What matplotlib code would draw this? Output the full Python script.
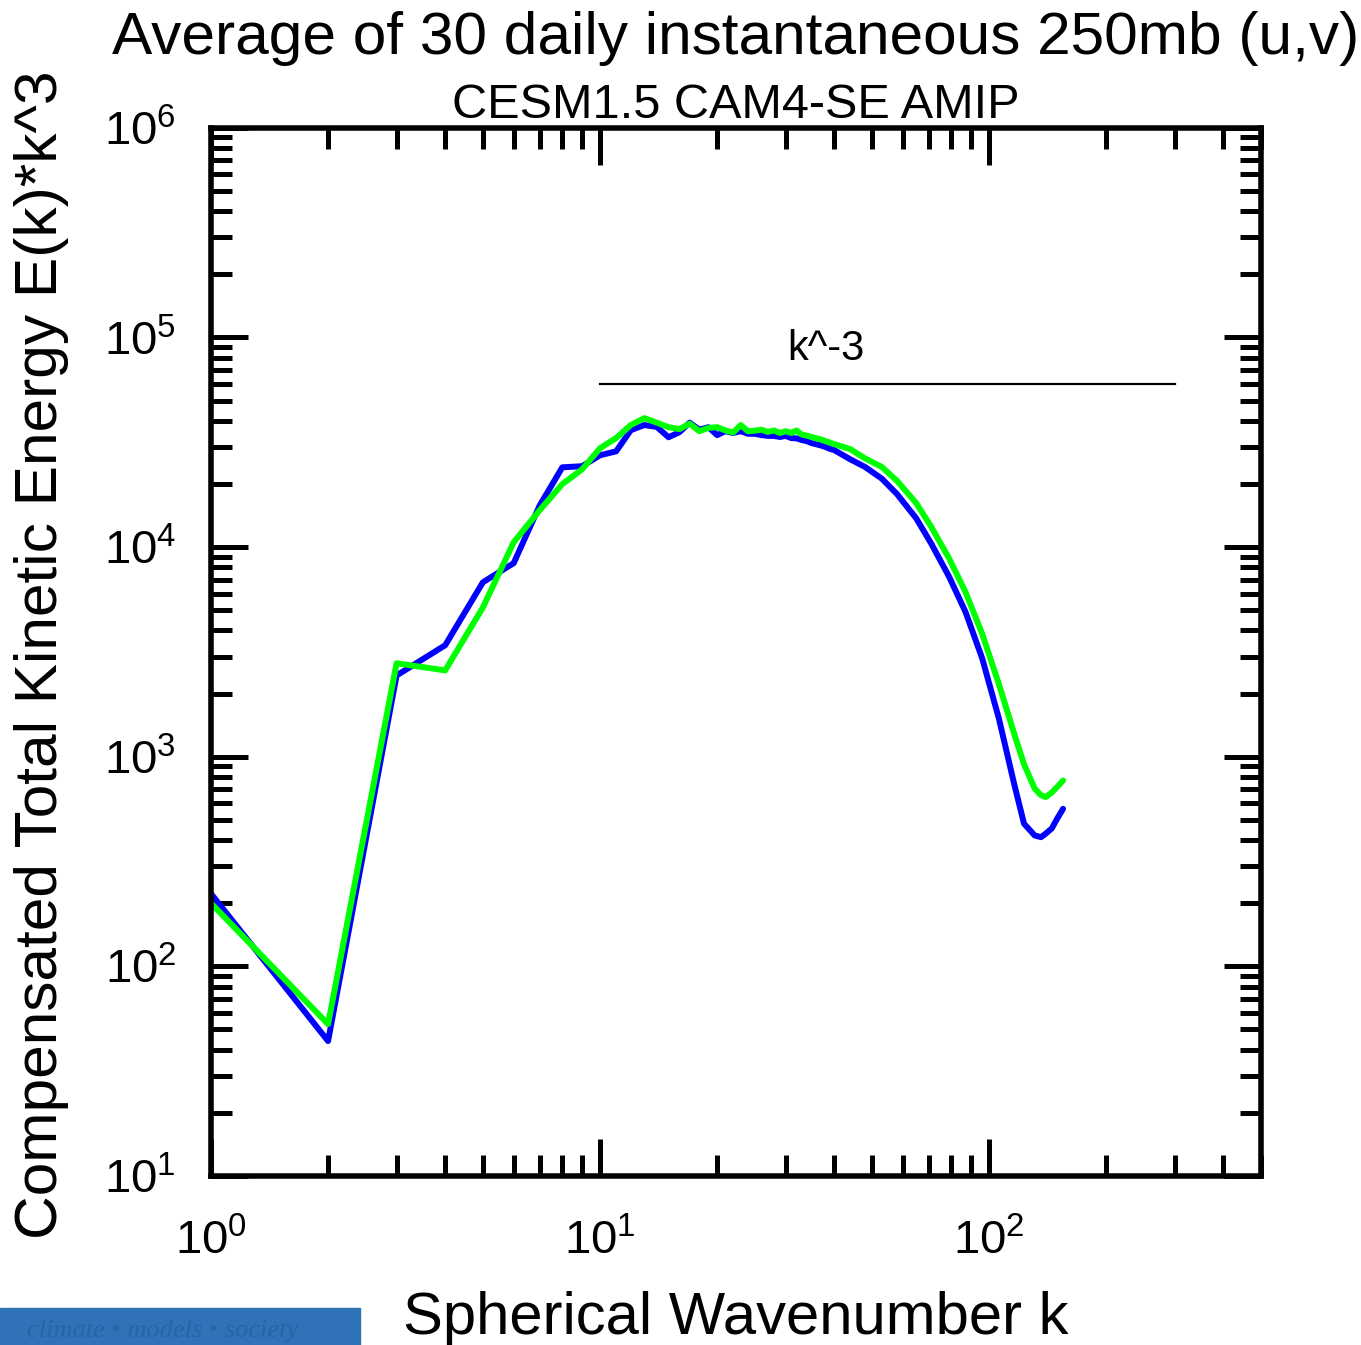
import numpy as np
import matplotlib
matplotlib.use("Agg")
import matplotlib.pyplot as plt
from matplotlib.patches import Rectangle
from matplotlib.ticker import LogLocator, NullFormatter

plt.rcParams.update({"font.family": ["Liberation Sans", "DejaVu Sans"], "mathtext.fontset": "custom",
                     "mathtext.rm": "Liberation Sans", "mathtext.it": "Liberation Sans"})

# wavenumbers and compensated KE spectra
k = [1, 2, 3, 4, 5, 6, 7, 8, 9, 10, 11, 12, 13, 14, 15, 16, 17, 18, 19, 20,
     21, 22, 23, 24, 25, 26, 27, 28, 29, 30, 31, 32, 33, 34, 35, 36, 37, 38, 39, 40,
     44, 48, 53, 58, 65, 71, 79, 87, 96, 106, 116, 123, 131, 136, 140, 145, 150, 155]
blue = [222, 44, 2440, 3400, 6790, 8380, 15800, 24000, 24300, 27400, 28600, 36100, 38200,
        37400, 33400, 35300, 39200, 36300, 37300, 34200,
        35700, 35000, 35700, 34700, 34700, 34200, 33900, 33900, 33500, 33900, 33100, 33000,
        32400, 32000, 31300, 30900, 30500, 30000, 29400, 29000,
        26200, 24100, 21200, 17900, 13700, 10400, 7200, 4900, 2950, 1520, 743, 479,
        421, 413, 430, 455, 510, 564]
green = [200, 53, 2790, 2580, 5150, 10540, 15000, 19950, 23500, 29600, 33100, 38200, 41200,
         39200, 37300, 36500, 38800, 35700, 37000, 37300,
         36000, 35200, 38200, 35700, 35900, 36300, 35400, 36000, 35000, 35700, 35000, 36000,
         34400, 34000, 33500, 33000, 32600, 32000, 31500, 31000,
         29300, 26500, 24100, 20700, 16200, 12500, 8800, 6100, 3860, 2220, 1290, 920,
         705, 655, 642, 675, 720, 770]

ref_k = [10, 300]
ref_val = [6e4, 6e4]

fig = plt.figure(figsize=(13.61, 13.45), dpi=100)
ax = fig.add_axes([0.155, 0.1257, 0.7715, 0.7793])

ax.plot(k, blue, color="#0000ff", lw=4.3, solid_joinstyle="round", solid_capstyle="round")
ax.plot(k, green, color="#00ff00", lw=4.3, solid_joinstyle="round", solid_capstyle="round")
ax.plot(ref_k, ref_val, color="black", lw=1.6)
ax.text(38, 8.8e4, "k^-3", fontsize=30, ha="center", va="center")

ax.set_xscale("log"); ax.set_yscale("log")
ax.set_xlim(1, 500); ax.set_ylim(10, 1e6)
for s in ax.spines.values():
    s.set_linewidth(4)
ax.xaxis.set_minor_locator(LogLocator(base=10, subs=np.arange(2, 10)))
ax.yaxis.set_minor_locator(LogLocator(base=10, subs=np.arange(2, 10)))
ax.xaxis.set_minor_formatter(NullFormatter()); ax.yaxis.set_minor_formatter(NullFormatter())
ax.tick_params(which="major", direction="in", length=26.5, width=3.6, top=True, right=True,
               labelsize=34)
ax.tick_params(which="minor", direction="in", length=15, width=3.6, top=True, right=True)
ax.tick_params(axis="x", which="major", pad=31)
ax.tick_params(axis="y", which="major", pad=25)

ax.set_title("CESM1.5 CAM4-SE AMIP", fontsize=35, pad=6)
fig.text(736 / 1361, 1 - 38 / 1345, "Average of 30 daily instantaneous 250mb (u,v)", fontsize=43.5,
         ha="center", va="center")
fig.text(736 / 1361, 1 - 1318 / 1345, "Spherical Wavenumber k", fontsize=43,
         ha="center", va="center")
fig.text(42 / 1361, 1 - 655 / 1345, "Compensated Total Kinetic Energy E(k)*k^3", fontsize=43.5,
         ha="center", va="center", rotation=90)

# blue banner bottom-left (watermark)
fig.patches.append(Rectangle((0, 0), 360 / 1361, 37 / 1345, transform=fig.transFigure,
                             color="#2f72b8", zorder=0))
fig.text(27 / 1361, 8 / 1345, "climate \u2022 models \u2022 society", fontsize=19, color="#2863a5",
         family="Liberation Serif", style="italic", va="baseline")

plt.savefig("out.png", dpi=100)
